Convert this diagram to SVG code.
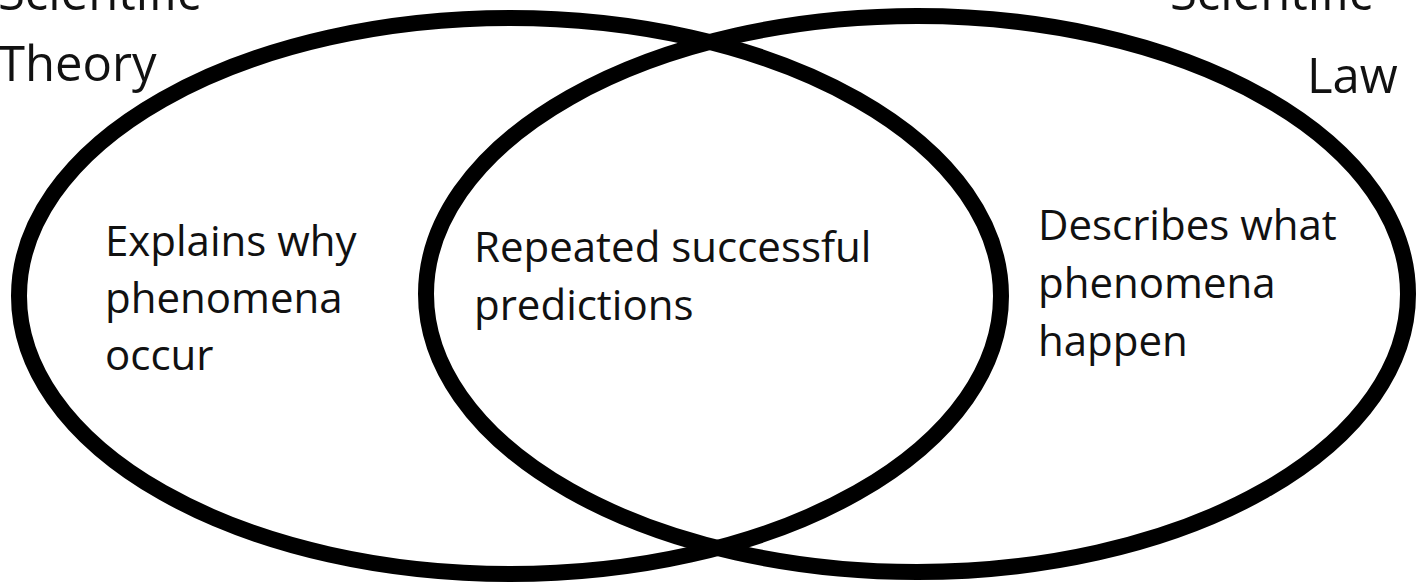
<svg xmlns="http://www.w3.org/2000/svg" width="1427" height="586" viewBox="0 0 1427 586">
  <style>
    .ring { fill: none; stroke: #000; stroke-width: 16; }
    .t { font-family: "Open Sans", "Noto Sans", sans-serif; font-size: 42px; fill: #111; }
    .lbl { font-family: "Open Sans", "Noto Sans", sans-serif; font-size: 49px; fill: #111; }
  </style>
  <rect width="1427" height="586" fill="#fff"/>
  <g id="theory">
    <ellipse class="ring" cx="510" cy="296" rx="491" ry="278"/>
    <text class="lbl" x="-2" y="10">Scientific</text>
    <text class="lbl" x="-2" y="81">Theory</text>
    <text class="t" x="105" y="256">Explains why</text>
    <text class="t" x="105" y="313">phenomena</text>
    <text class="t" x="105" y="370">occur</text>
  </g>
  <g id="law">
    <ellipse class="ring" cx="917" cy="294" rx="491" ry="278"/>
    <text class="lbl" x="1170" y="10">Scientific</text>
    <text class="lbl" x="1307" y="93">Law</text>
    <text class="t" x="1038" y="240">Describes what</text>
    <text class="t" x="1038" y="298">phenomena</text>
    <text class="t" x="1038" y="356">happen</text>
  </g>
  <g id="overlap">
    <text class="t" x="474" y="262">Repeated successful</text>
    <text class="t" x="474" y="320">predictions</text>
  </g>
  <g id="connectors"></g>
</svg>
